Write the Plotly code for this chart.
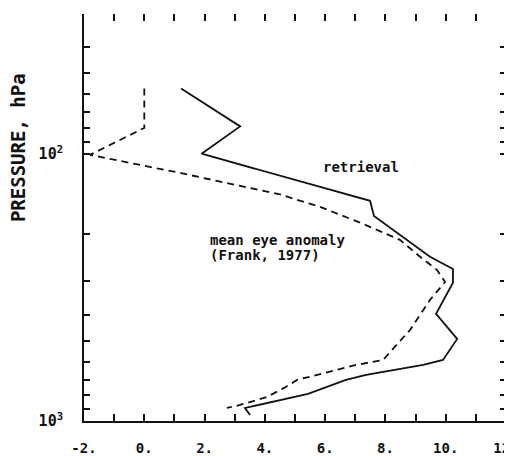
import numpy as np
import plotly.graph_objects as go

# Retrieval (solid line): temperature anomaly (K) vs pressure (hPa)
retrieval_x = [1.22, 3.18, 1.90, 7.49, 7.62, 9.48, 10.24, 10.24, 9.68, 10.38, 9.91, 9.25, 7.36, 6.69, 5.43, 3.34, 3.51]
retrieval_p = [57, 79, 100, 150, 171, 243, 270, 304, 397, 493, 591, 617, 672, 702, 792, 894, 949]

# Mean eye anomaly (Frank, 1977) (dashed line)
frank_x = [0.0, 0.0, -1.8, 1.19, 4.50, 5.83, 7.16, 8.48, 9.15, 9.71, 9.98, 9.48, 8.82, 7.92, 7.02, 5.70, 5.07, 4.64, 4.07, 3.18, 2.74]
frank_p = [57, 80, 101, 118, 142, 158, 181, 210, 243, 272, 302, 352, 456, 591, 617, 672, 702, 752, 813, 871, 894]

x_tickvals = list(range(-2, 13))
x_ticktext = ["-2.", "", "0.", "", "2.", "", "4.", "", "6.", "", "8.", "", "10.", "", "12."]
y_tickvals = [30, 40, 50, 60, 70, 80, 90, 100, 200, 300, 400, 500, 600, 700, 800, 900, 1000]
y_ticktext = ["" for _ in y_tickvals]
y_ticktext[y_tickvals.index(100)] = "10<sup>2</sup>"
y_ticktext[y_tickvals.index(1000)] = "10<sup>3</sup>"

FONT = "DejaVu Sans Mono"
ink = "#111111"

fig = go.Figure()
fig.add_trace(go.Scatter(x=retrieval_x, y=retrieval_p, mode="lines",
                         line=dict(color=ink, width=1.8), showlegend=False))
fig.add_trace(go.Scatter(x=frank_x, y=frank_p, mode="lines",
                         line=dict(color=ink, width=1.8, dash="7px,5px"), showlegend=False))
# invisible trace to activate secondary axes
fig.add_trace(go.Scatter(x=[None], y=[None], xaxis="x2", yaxis="y2", showlegend=False))

yr = [3, np.log10(30)]  # pressure increases downward
common = dict(showgrid=False, zeroline=False, automargin=False, tickcolor=ink, tickwidth=1.5)
# page body has an 8px margin, so the figure is 8px smaller and margins shifted
fig.update_layout(
    width=504, height=448,
    margin=dict(l=76, r=6, t=6, b=35),
    plot_bgcolor="white", paper_bgcolor="white",
    font=dict(family=FONT, size=14, color=ink),
    xaxis=dict(range=[-2, 12], tickvals=x_tickvals, ticktext=x_ticktext,
               ticks="inside", ticklen=7, showline=True, linecolor=ink, linewidth=2,
               ticklabelstandoff=13, ticklabeloverflow="allow",
               tickfont=dict(family=FONT, size=14, weight="bold"), **common),
    xaxis2=dict(range=[-2, 12], overlaying="x", side="top", tickvals=x_tickvals,
                ticktext=["" for _ in x_tickvals], ticks="inside", ticklen=7,
                showline=False, **common),
    yaxis=dict(type="log", range=yr, tickvals=y_tickvals, ticktext=y_ticktext,
               ticks="inside", ticklen=6, showline=True, linecolor=ink, linewidth=2,
               ticklabelstandoff=16,
               tickfont=dict(family=FONT, size=15, weight="bold"), **common),
    yaxis2=dict(type="log", range=yr, overlaying="y", side="right",
                tickvals=y_tickvals, ticktext=["" for _ in y_tickvals],
                ticks="inside", ticklen=6, showline=True, linecolor=ink, linewidth=2,
                **common),
    annotations=[
        dict(text="PRESSURE, hPa", textangle=-90, xref="paper", yref="paper",
             x=-0.156, y=0.671, xanchor="center", yanchor="middle", showarrow=False,
             font=dict(family=FONT, size=19, weight="bold")),
        dict(text="retrieval", xref="paper", yref="paper", x=0.656, y=0.624,
             xanchor="center", yanchor="middle", showarrow=False,
             font=dict(family=FONT, size=14, weight="bold")),
        dict(text="mean eye anomaly", xref="paper", yref="paper", x=0.294, y=0.4447,
             xanchor="left", yanchor="middle", showarrow=False,
             font=dict(family=FONT, size=14, weight="bold")),
        dict(text="(Frank, 1977)", xref="paper", yref="paper", x=0.294, y=0.408,
             xanchor="left", yanchor="middle", showarrow=False,
             font=dict(family=FONT, size=14, weight="bold")),
    ],
)

fig.write_html("out.html")
